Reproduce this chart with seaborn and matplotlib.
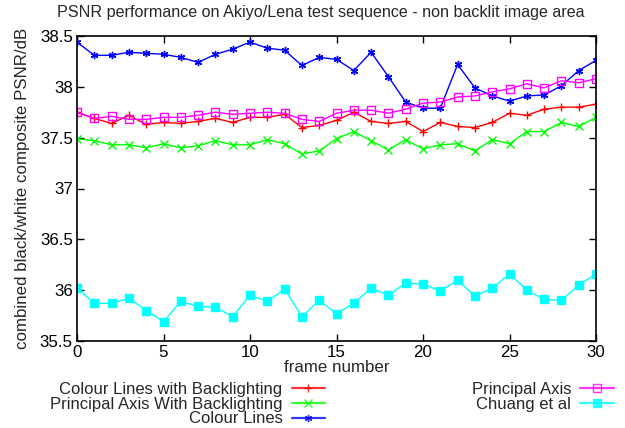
import numpy as np
import pandas as pd
import seaborn as sns
import matplotlib.pyplot as plt

frames = list(range(31))

colour_lines_bl = [37.75, 37.69, 37.64, 37.72, 37.63, 37.65, 37.64, 37.66, 37.69, 37.65,
                   37.70, 37.70, 37.73, 37.60, 37.62, 37.67, 37.75, 37.66, 37.64, 37.66,
                   37.56, 37.65, 37.61, 37.60, 37.65, 37.74, 37.72, 37.78, 37.80, 37.80, 37.83]
principal_axis_bl = [37.49, 37.47, 37.43, 37.43, 37.40, 37.44, 37.40, 37.42, 37.47, 37.43,
                     37.43, 37.48, 37.44, 37.34, 37.37, 37.49, 37.56, 37.47, 37.38, 37.48,
                     37.39, 37.43, 37.44, 37.37, 37.48, 37.44, 37.56, 37.56, 37.65, 37.61, 37.70]
colour_lines = [38.44, 38.31, 38.31, 38.34, 38.33, 38.32, 38.29, 38.24, 38.32, 38.37,
                38.44, 38.38, 38.36, 38.21, 38.29, 38.27, 38.16, 38.34, 38.10, 37.85,
                37.79, 37.79, 38.22, 37.99, 37.91, 37.86, 37.91, 37.92, 38.01, 38.16, 38.26]
principal_axis = [37.75, 37.69, 37.71, 37.68, 37.68, 37.70, 37.70, 37.72, 37.75, 37.73,
                  37.74, 37.75, 37.74, 37.68, 37.66, 37.74, 37.77, 37.77, 37.74, 37.78,
                  37.84, 37.85, 37.90, 37.91, 37.95, 37.98, 38.03, 37.99, 38.06, 38.04, 38.08]
chuang = [36.02, 35.87, 35.87, 35.92, 35.80, 35.69, 35.89, 35.84, 35.83, 35.74,
          35.95, 35.89, 36.01, 35.74, 35.90, 35.77, 35.87, 36.02, 35.95, 36.07,
          36.06, 35.99, 36.10, 35.94, 36.02, 36.16, 36.00, 35.91, 35.90, 36.05, 36.16]

series = [
    ("Colour Lines with Backlighting", colour_lines_bl, "#ff0000", "+", "#ff0000"),
    ("Principal Axis With Backlighting", principal_axis_bl, "#00ff00", "x", "#00ff00"),
    ("Colour Lines", colour_lines, "#0000ff", (6, 2, 0), "#0000ff"),
    ("Principal Axis", principal_axis, "#ff00ff", "s", "none"),
    ("Chuang et al", chuang, "#00ffff", "s", "#00ffff"),
]

sns.set_style("ticks")
plt.rcParams['font.family'] = ['Liberation Sans', 'DejaVu Sans']

fig = plt.figure(figsize=(6.25, 4.28), dpi=100)
ax = fig.add_axes([77 / 625, 1 - 341 / 428, (596 - 77) / 625, (341 - 36) / 428])

for name, vals, col, mk, fc in series:
    sns.lineplot(x=frames, y=vals, ax=ax, color=col, marker=mk, markersize=5.2,
                 markerfacecolor=fc, markeredgecolor=col, markeredgewidth=1,
                 linewidth=1, label=name)

ax.set_xlim(0, 30)
ax.set_ylim(35.5, 38.5)
ax.set_xticks(range(0, 31, 5))
ax.set_yticks(np.arange(35.5, 38.51, 0.5))
ax.set_yticklabels(["35.5", "36", "36.5", "37", "37.5", "38", "38.5"])
ax.tick_params(direction='in', top=True, right=True, length=5, width=1,
               labelsize=12.2, colors='black', pad=3)
for s in ax.spines.values():
    s.set_color('black')
    s.set_linewidth(1.2)

fig.text(321 / 625, 1 - 13 / 428,
         "PSNR performance on Akiyo/Lena test sequence - non backlit image area",
         fontsize=11.6, ha='center', va='center')
ax.set_xlabel("frame number", fontsize=12.2, labelpad=0)
ax.set_ylabel("combined black/white composite PSNR/dB", fontsize=12.2, labelpad=7)

ax.get_legend().remove()
handles, labels = ax.get_legend_handles_labels()
leg = fig.legend(handles, labels, ncol=2, markerfirst=False, frameon=False,
                 loc='upper left', bbox_to_anchor=(50 / 625, 1 - 382 / 428),
                 fontsize=12.0, handlelength=2.0, handletextpad=0.55,
                 labelspacing=-0.02, columnspacing=8.8, borderpad=0, borderaxespad=0)
for h in leg.legend_handles:
    h.set_linewidth(1.6)
    h.set_alpha(0.8)

fig.savefig("out.png", dpi=100)
